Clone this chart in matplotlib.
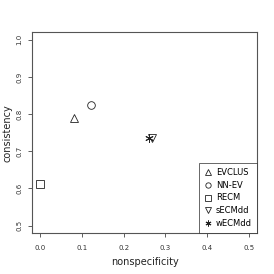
import matplotlib
matplotlib.use("Agg")
import matplotlib.pyplot as plt

methods = ["EVCLUS", "NN-EV", "RECM", "sECMdd", "wECMdd"]
nonspecificity = [0.080, 0.121, 0.000, 0.268, 0.261]
consistency = [0.790, 0.824, 0.611, 0.736, 0.735]
markers = ["^", "o", "s", "v", "*"]
xticks = [0.0, 0.1, 0.2, 0.3, 0.4, 0.5]
yticks = [0.5, 0.6, 0.7, 0.8, 0.9, 1.0]

fig = plt.figure(figsize=(2.74, 2.74), dpi=100)
ax = fig.add_axes([32/274, 1-233/274, (257-32)/274, (233-32.3)/274])

for m, x, y, mk in zip(methods, nonspecificity, consistency, markers):
    if mk == "*":
        ax.plot([x], [y], linestyle="none", marker=(6, 2, 0), markersize=6,
                color="#222222", markeredgewidth=0.7, label=m)
    else:
        ax.plot([x], [y], linestyle="none", marker=mk, markersize=5.5,
                markerfacecolor="none", markeredgecolor="#222222",
                markeredgewidth=0.6, label=m)

ax.set_xlim(-0.02, 0.52)
ax.set_ylim(0.48, 1.02)
ax.set_xticks(xticks)
ax.set_yticks(yticks)
ax.set_xticklabels([f"{t:.1f}" for t in xticks])
ax.set_yticklabels([f"{t:.1f}" for t in yticks], rotation=90, va="center")
ax.tick_params(axis="both", labelsize=5, length=3, width=0.6, color="#444444",
               labelcolor="#333333")
ax.tick_params(axis="x", pad=6)
ax.tick_params(axis="y", pad=4)
for s in ax.spines.values():
    s.set_color("#555555")
    s.set_linewidth(0.8)

ax.set_xlabel("nonspecificity", fontsize=7, color="#222222", labelpad=4)
ax.set_ylabel("consistency", fontsize=7, color="#222222", labelpad=3)

leg = ax.legend(loc="lower right", fontsize=6, frameon=True, fancybox=False,
                borderaxespad=0, handlelength=1.0, handletextpad=0.5,
                labelspacing=0.45, borderpad=0.6, markerscale=0.7)
leg.get_frame().set_edgecolor("#222222")
leg.get_frame().set_linewidth(0.6)

fig.savefig("out.png", dpi=100)
